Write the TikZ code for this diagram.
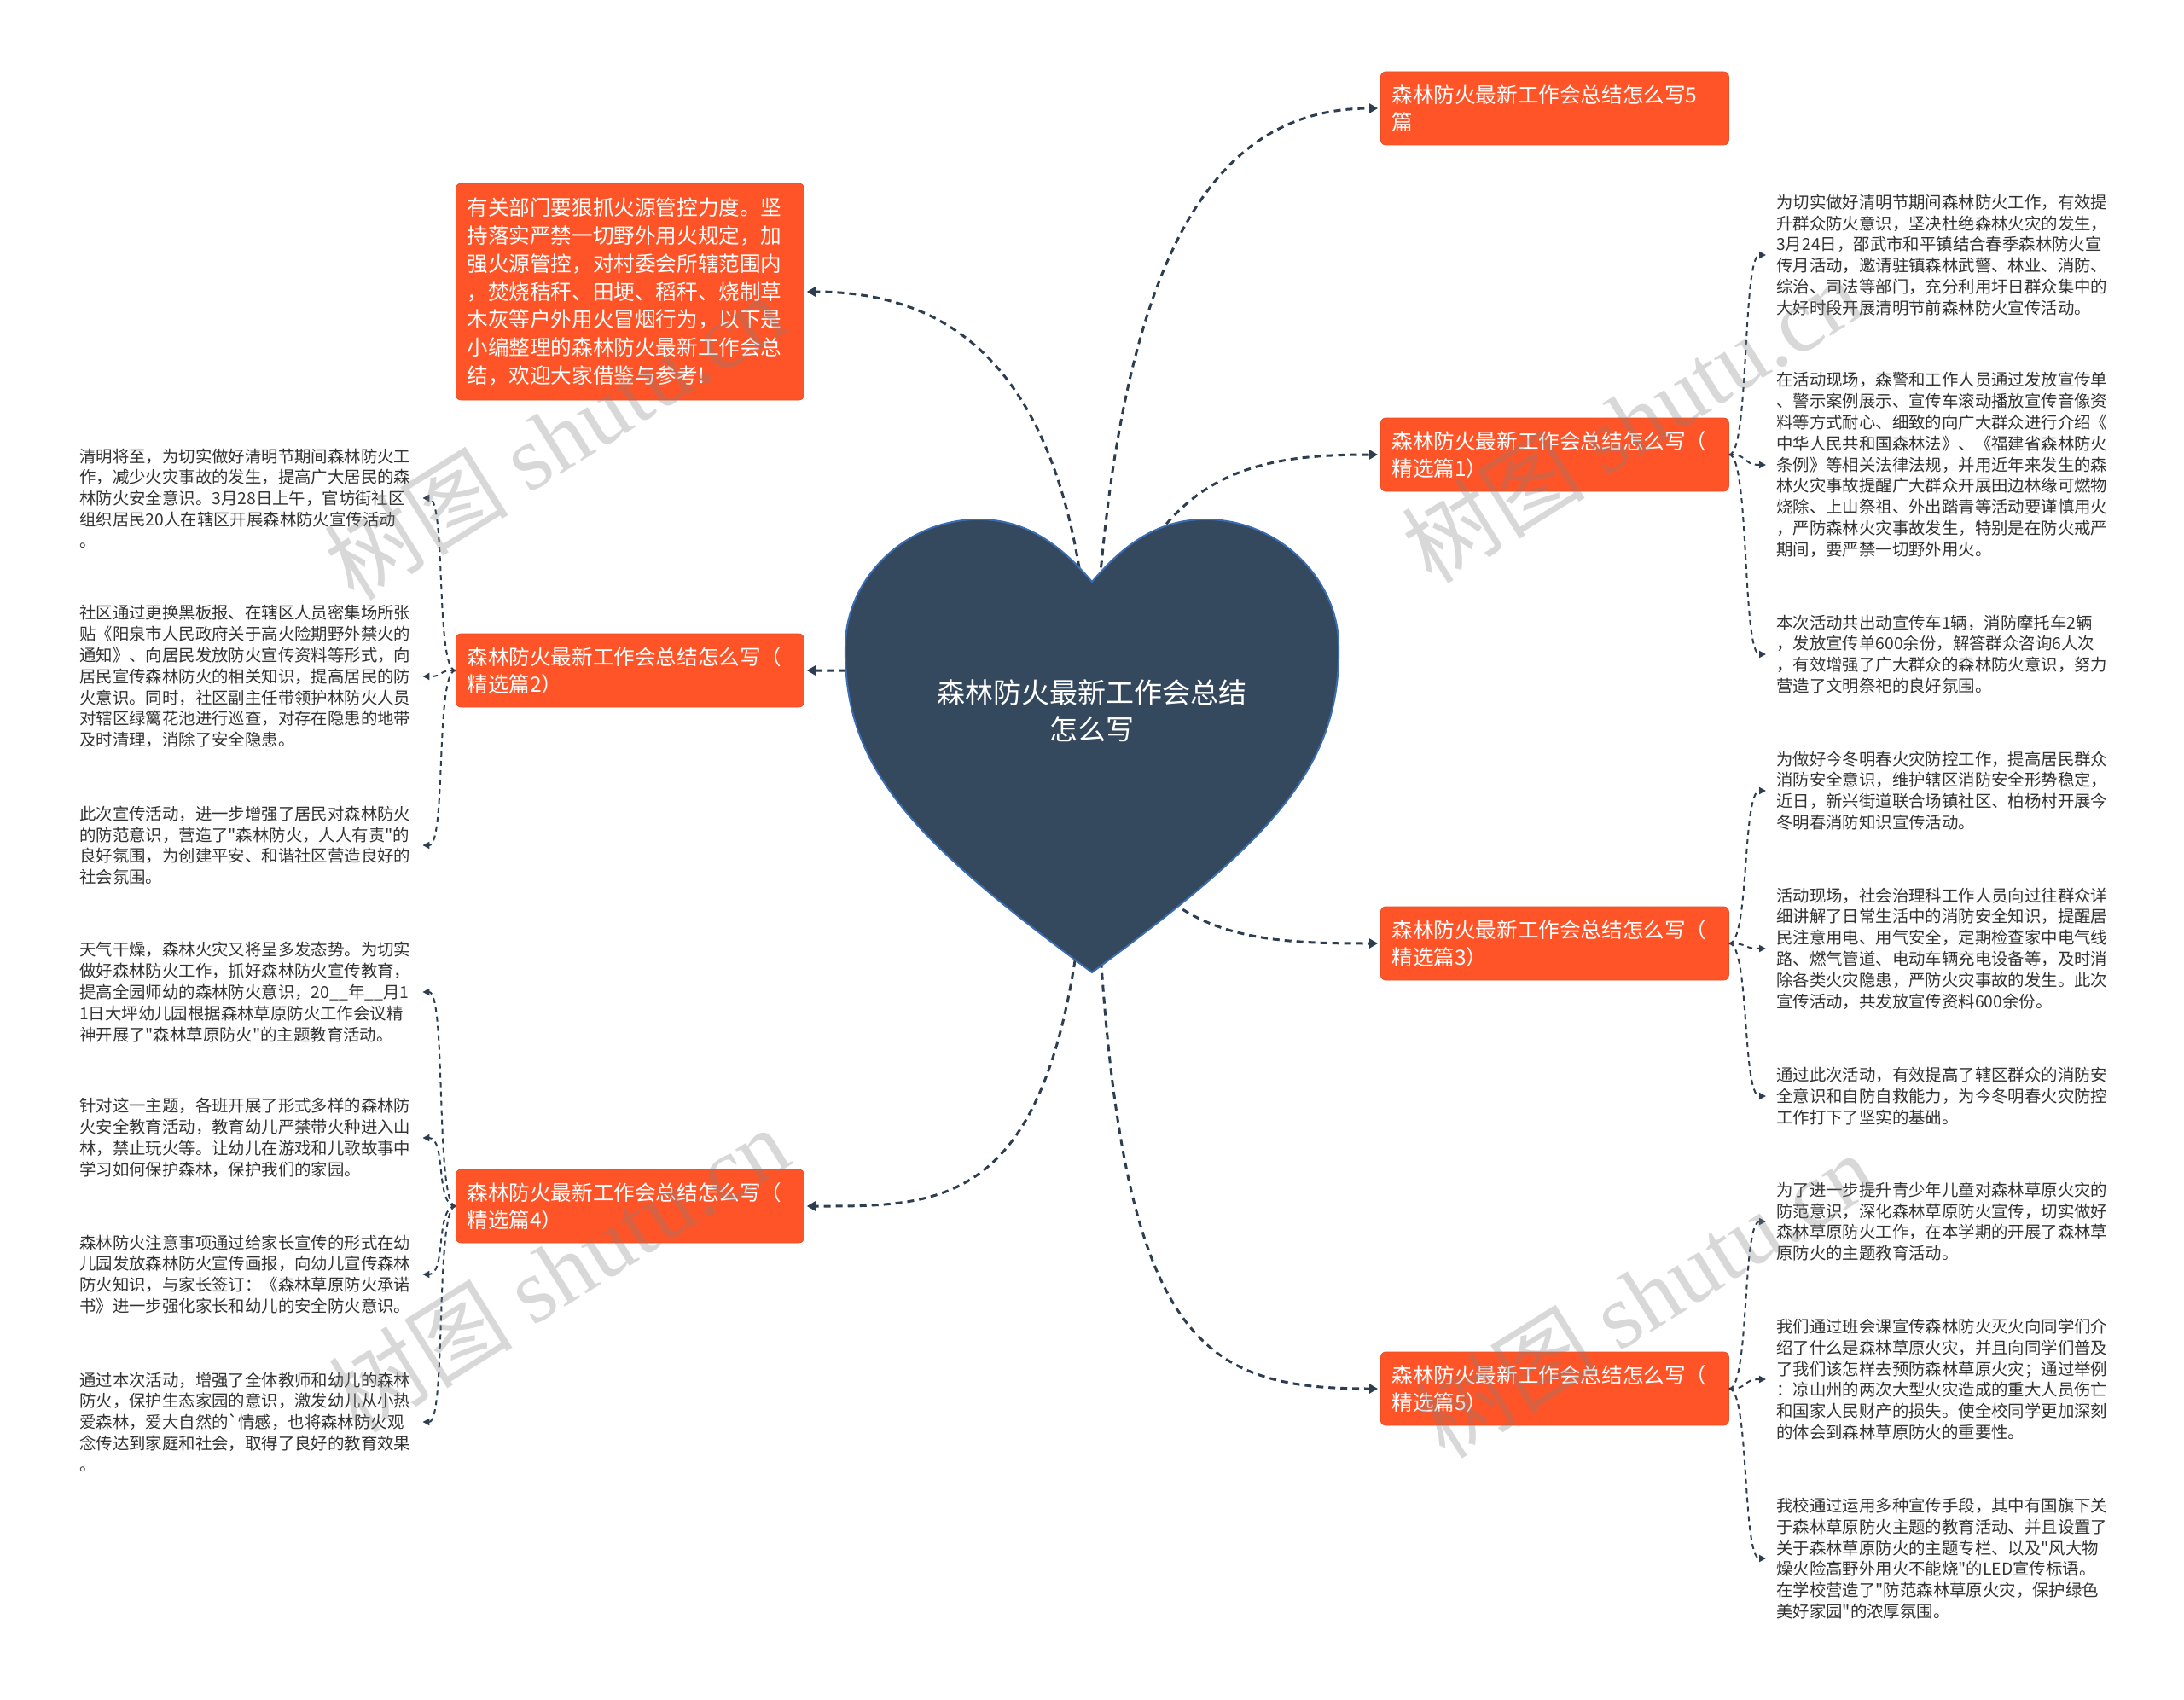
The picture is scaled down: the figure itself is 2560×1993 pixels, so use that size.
\documentclass[tikz,border=0pt]{standalone}
\usepackage{fontspec}
\setmainfont{Noto Sans CJK SC}[Ligatures=TeXOff]
\newfontfamily\markserif{Liberation Serif}
\usepackage{tikz}
\usetikzlibrary{arrows.meta,positioning,calc}
\usepackage{xcolor}
\definecolor{Slate}{HTML}{34495E}
\definecolor{HeartEdge}{HTML}{3B6DB3}
\definecolor{Flame}{HTML}{FF5428}
\definecolor{Ink}{HTML}{2C3E50}
\definecolor{Body}{HTML}{333333}

\begin{document}
\begin{tikzpicture}[x=1pt,y=-1pt,>={Triangle[length=10pt,width=11pt]},
  box/.style={rectangle,rounded corners=6pt,fill=Flame,draw=Flame!92!black,line width=0.8pt,text=white,align=left,text width=382pt,inner xsep=13pt,inner ysep=0pt,minimum height=86pt,font=\fontsize{24.6}{32.7}\selectfont},
  note/.style={align=left,text width=390pt,inner xsep=12pt,inner ysep=0pt,text=Body,font=\fontsize{19.4}{24.8}\selectfont},
  trunk/.style={->,Ink,line width=3pt,dash pattern=on 8pt off 6pt,shorten >=3pt},
  twig/.style={-{Triangle[length=8pt,width=8pt]},Ink,line width=2pt,dash pattern=on 6pt off 5pt},
  heartlabel/.style={align=center,text=white,font=\fontsize{33}{42.5}\selectfont},
  wmark/.style={text=gray,opacity=0.3,rotate=32,font=\fontsize{108}{108}\selectfont}]
\fill[white] (0,0) rectangle (2560,1993);
\useasboundingbox (0,0) rectangle (2560,1993);
\node[note,anchor=west] (l2a) at (81,584) {清明将至，为切实做好清明节期间森林防火工\\作，减少火灾事故的发生，提高广大居民的森\\林防火安全意识。3月28日上午，官坊街社区\\组织居民20人在辖区开展森林防火宣传活动\\。};
\node[note,anchor=west] (l2b) at (81,793) {社区通过更换黑板报、在辖区人员密集场所张\\贴《阳泉市人民政府关于高火险期野外禁火的\\通知》、向居民发放防火宣传资料等形式，向\\居民宣传森林防火的相关知识，提高居民的防\\火意识。同时，社区副主任带领护林防火人员\\对辖区绿篱花池进行巡查，对存在隐患的地带\\及时清理，消除了安全隐患。};
\node[note,anchor=west] (l2c) at (81,991) {此次宣传活动，进一步增强了居民对森林防火\\的防范意识，营造了"森林防火，人人有责"的\\良好氛围，为创建平安、和谐社区营造良好的\\社会氛围。};
\node[note,anchor=west] (l4a) at (81,1163) {天气干燥，森林火灾又将呈多发态势。为切实\\做好森林防火工作，抓好森林防火宣传教育，\\提高全园师幼的森林防火意识，20\_\_年\_\_月1\\1日大坪幼儿园根据森林草原防火工作会议精\\神开展了"森林草原防火"的主题教育活动。};
\node[note,anchor=west] (l4b) at (81,1334) {针对这一主题，各班开展了形式多样的森林防\\火安全教育活动，教育幼儿严禁带火种进入山\\林，禁止玩火等。让幼儿在游戏和儿歌故事中\\学习如何保护森林，保护我们的家园。};
\node[note,anchor=west] (l4c) at (81,1494) {森林防火注意事项通过给家长宣传的形式在幼\\儿园发放森林防火宣传画报，向幼儿宣传森林\\防火知识，与家长签订：《森林草原防火承诺\\书》进一步强化家长和幼儿的安全防火意识。};
\node[note,anchor=west] (l4d) at (81,1667) {通过本次活动，增强了全体教师和幼儿的森林\\防火，保护生态家园的意识，激发幼儿从小热\\爱森林，爱大自然的`情感，也将森林防火观\\念传达到家庭和社会，取得了良好的教育效果\\。};
\node[note,anchor=west] (r1a) at (2070,299) {为切实做好清明节期间森林防火工作，有效提\\升群众防火意识，坚决杜绝森林火灾的发生，\\3月24日，邵武市和平镇结合春季森林防火宣\\传月活动，邀请驻镇森林武警、林业、消防、\\综治、司法等部门，充分利用圩日群众集中的\\大好时段开展清明节前森林防火宣传活动。};
\node[note,anchor=west] (r1b) at (2070,545) {在活动现场，森警和工作人员通过发放宣传单\\、警示案例展示、宣传车滚动播放宣传音像资\\料等方式耐心、细致的向广大群众进行介绍《\\中华人民共和国森林法》、《福建省森林防火\\条例》等相关法律法规，并用近年来发生的森\\林火灾事故提醒广大群众开展田边林缘可燃物\\烧除、上山祭祖、外出踏青等活动要谨慎用火\\，严防森林火灾事故发生，特别是在防火戒严\\期间，要严禁一切野外用火。};
\node[note,anchor=west] (r1c) at (2070,767) {本次活动共出动宣传车1辆，消防摩托车2辆\\，发放宣传单600余份，解答群众咨询6人次\\，有效增强了广大群众的森林防火意识，努力\\营造了文明祭祀的良好氛围。};
\node[note,anchor=west] (r3a) at (2070,927) {为做好今冬明春火灾防控工作，提高居民群众\\消防安全意识，维护辖区消防安全形势稳定，\\近日，新兴街道联合场镇社区、柏杨村开展今\\冬明春消防知识宣传活动。};
\node[note,anchor=west] (r3b) at (2070,1112) {活动现场，社会治理科工作人员向过往群众详\\细讲解了日常生活中的消防安全知识，提醒居\\民注意用电、用气安全，定期检查家中电气线\\路、燃气管道、电动车辆充电设备等，及时消\\除各类火灾隐患，严防火灾事故的发生。此次\\宣传活动，共发放宣传资料600余份。};
\node[note,anchor=west] (r3c) at (2070,1285) {通过此次活动，有效提高了辖区群众的消防安\\全意识和自防自救能力，为今冬明春火灾防控\\工作打下了坚实的基础。};
\node[note,anchor=west] (r5a) at (2070,1432) {为了进一步提升青少年儿童对森林草原火灾的\\防范意识，深化森林草原防火宣传，切实做好\\森林草原防火工作，在本学期的开展了森林草\\原防火的主题教育活动。};
\node[note,anchor=west] (r5b) at (2070,1617) {我们通过班会课宣传森林防火灭火向同学们介\\绍了什么是森林草原火灾，并且向同学们普及\\了我们该怎样去预防森林草原火灾；通过举例\\：凉山州的两次大型火灾造成的重大人员伤亡\\和国家人民财产的损失。使全校同学更加深刻\\的体会到森林草原防火的重要性。};
\node[note,anchor=west] (r5c) at (2070,1827) {我校通过运用多种宣传手段，其中有国旗下关\\于森林草原防火主题的教育活动、并且设置了\\关于森林草原防火的主题专栏、以及"风大物\\燥火险高野外用火不能烧"的LED宣传标语。\\在学校营造了"防范森林草原火灾，保护绿色\\美好家园"的浓厚氛围。};
\node[box,anchor=west,minimum height=254pt] (intro) at (534,342) {有关部门要狠抓火源管控力度。坚\\持落实严禁一切野外用火规定，加\\强火源管控，对村委会所辖范围内\\，焚烧秸秆、田埂、稻秆、烧制草\\木灰等户外用火冒烟行为，以下是\\小编整理的森林防火最新工作会总\\结，欢迎大家借鉴与参考!};
\node[box,anchor=west] (b5) at (1618,127) {森林防火最新工作会总结怎么写5\\篇};
\node[box,anchor=west] (p1) at (1618,533) {森林防火最新工作会总结怎么写（\\精选篇1）};
\node[box,anchor=west] (p2) at (534,786) {森林防火最新工作会总结怎么写（\\精选篇2）};
\node[box,anchor=west] (p3) at (1618,1106) {森林防火最新工作会总结怎么写（\\精选篇3）};
\node[box,anchor=west] (p4) at (534,1414) {森林防火最新工作会总结怎么写（\\精选篇4）};
\node[box,anchor=west] (p5) at (1618,1628) {森林防火最新工作会总结怎么写（\\精选篇5）};
\coordinate (root) at (1280,833);
\draw[trunk] (root) .. controls +(-10,-383) and +(188,0) .. (intro.east);
\draw[trunk] (root) .. controls +(20,-533) and +(-198,0) .. (b5.west);
\draw[trunk] (root) .. controls +(50,-273) and +(-168,0) .. (p1.west);
\draw[trunk] (root) .. controls +(-130,-47) and +(90,0) .. (p2.east);
\draw[trunk] (root) .. controls +(20,267) and +(-168,0) .. (p3.west);
\draw[trunk] (root) .. controls +(-5,587) and +(188,0) .. (p4.east);
\draw[trunk] (root) .. controls +(10,727) and +(-238,0) .. (p5.west);
\foreach \t in {r1a,r1b,r1c} \draw[twig] (p1.east) .. controls +(24,0) and +(-28,0) .. (\t.west);
\foreach \t in {r3a,r3b,r3c} \draw[twig] (p3.east) .. controls +(24,0) and +(-28,0) .. (\t.west);
\foreach \t in {r5a,r5b,r5c} \draw[twig] (p5.east) .. controls +(24,0) and +(-28,0) .. (\t.west);
\foreach \t in {l2a,l2b,l2c} \draw[twig] (p2.west) .. controls +(-24,0) and +(28,0) .. (\t.east);
\foreach \t in {l4a,l4b,l4c,l4d} \draw[twig] (p4.west) .. controls +(-24,0) and +(28,0) .. (\t.east);
\draw[fill=Slate,draw=HeartEdge,line width=2pt] (1280,1140) .. controls (1070,985) and (988,900) .. (991,757) .. controls (991,680) and (1060,609) .. (1147,609) .. controls (1200,609) and (1240,635) .. (1280,682) .. controls (1320,635) and (1360,609) .. (1413,609) .. controls (1500,609) and (1569,680) .. (1569,757) .. controls (1572,900) and (1490,985) .. (1280,1140) -- cycle;
\node[heartlabel] (title) at (root) {森林防火最新工作会总结\\怎么写};
\node[wmark] (wm1) at (650,512) {树图 {\markserif shutu.cn}};
\node[wmark] (wm2) at (1912,492) {树图 {\markserif shutu.cn}};
\node[wmark] (wm3) at (655,1488) {树图 {\markserif shutu.cn}};
\node[wmark] (wm4) at (1928,1518) {树图 {\markserif shutu.cn}};
\end{tikzpicture}
\end{document}
